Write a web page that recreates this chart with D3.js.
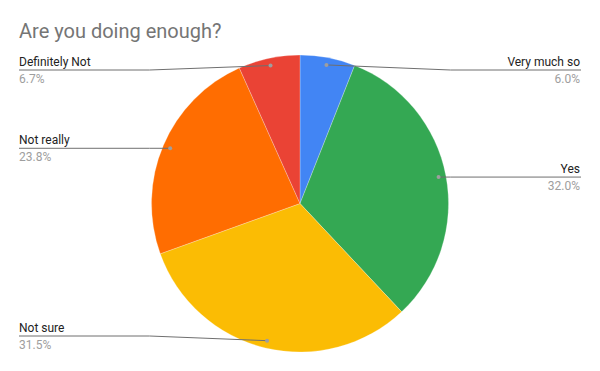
<!DOCTYPE html>
<html>
<head>
<meta charset="utf-8">
<script src="https://cdn.jsdelivr.net/npm/d3@7"></script>
<style>
  body { margin: 0; background: #fff; }
  svg { display: block; font-family: Roboto, Arial, sans-serif; }
</style>
</head>
<body>
<svg id="chart" width="600" height="371"></svg>
<script>
  // data
  var categories = ['Very much so', 'Yes', 'Not sure', 'Not really', 'Definitely Not'];
  var shares = [6.0, 32.0, 31.5, 23.8, 6.7];
  var percentLabels = ['6.0%', '32.0%', '31.5%', '23.8%', '6.7%'];
  var colours = ['#4285f4', '#34a853', '#fbbc04', '#ff6d01', '#ea4335'];

  var width = 600, height = 371;
  var cx = 300, cy = 203.5, R = 148.5;

  var svg = d3.select('#chart');

  svg.append('text')
    .attr('x', 19)
    .attr('y', 38)
    .attr('fill', '#757575')
    .attr('font-size', 20)
    .text('Are you doing enough?');

  var data = categories.map(function(c, i){
    return { name: c, value: shares[i], pct: percentLabels[i], colour: colours[i] };
  });

  var pie = d3.pie().sort(null).value(function(d){ return d.value; });
  var arc = d3.arc().innerRadius(0).outerRadius(R);
  var dotArc = d3.arc().innerRadius(R * 0.95).outerRadius(R * 0.95);

  var arcs = pie(data);
  var g = svg.append('g').attr('transform', 'translate(' + cx + ',' + cy + ')');

  g.selectAll('path.slice')
    .data(arcs)
    .enter()
    .append('path')
      .attr('class', 'slice')
      .attr('d', arc)
      .attr('fill', function(d){ return d.data.colour; })
      .attr('stroke', '#fff')
      .attr('stroke-opacity', 0.5)
      .attr('stroke-width', 0.5);

  // label lines: dot -> knee -> horizontal to chart edge
  var leftX = 19 - cx, rightX = 581 - cx;
  var yMin = 70 - cy, yMax = 336 - cy;

  arcs.forEach(function(d){
    var p = dotArc.centroid(d);
    var mid = (d.startAngle + d.endAngle) / 2;
    var right = mid < Math.PI;
    var ly = Math.max(yMin, Math.min(yMax, p[1]));
    var kneeX = right ? R + 2 : -(R + 2);
    var endX = right ? rightX : leftX;

    g.append('path')
      .attr('d', d3.line()([[p[0], p[1]], [kneeX, ly], [endX, ly]]))
      .attr('fill', 'none')
      .attr('stroke', '#6f6f6f')
      .attr('stroke-width', 1);

    g.append('circle')
      .attr('cx', p[0])
      .attr('cy', p[1])
      .attr('r', 2)
      .attr('fill', '#9e9e9e');

    var anchor = right ? 'end' : 'start';
    var tx = right ? rightX - 1 : leftX;

    g.append('text')
      .attr('x', tx)
      .attr('y', ly - 4)
      .attr('text-anchor', anchor)
      .attr('font-size', 12)
      .attr('fill', '#222')
      .text(d.data.name);

    g.append('text')
      .attr('x', tx)
      .attr('y', ly + 13)
      .attr('text-anchor', anchor)
      .attr('font-size', 12)
      .attr('fill', '#9e9e9e')
      .text(d.data.pct);
  });
</script>
</body>
</html>
